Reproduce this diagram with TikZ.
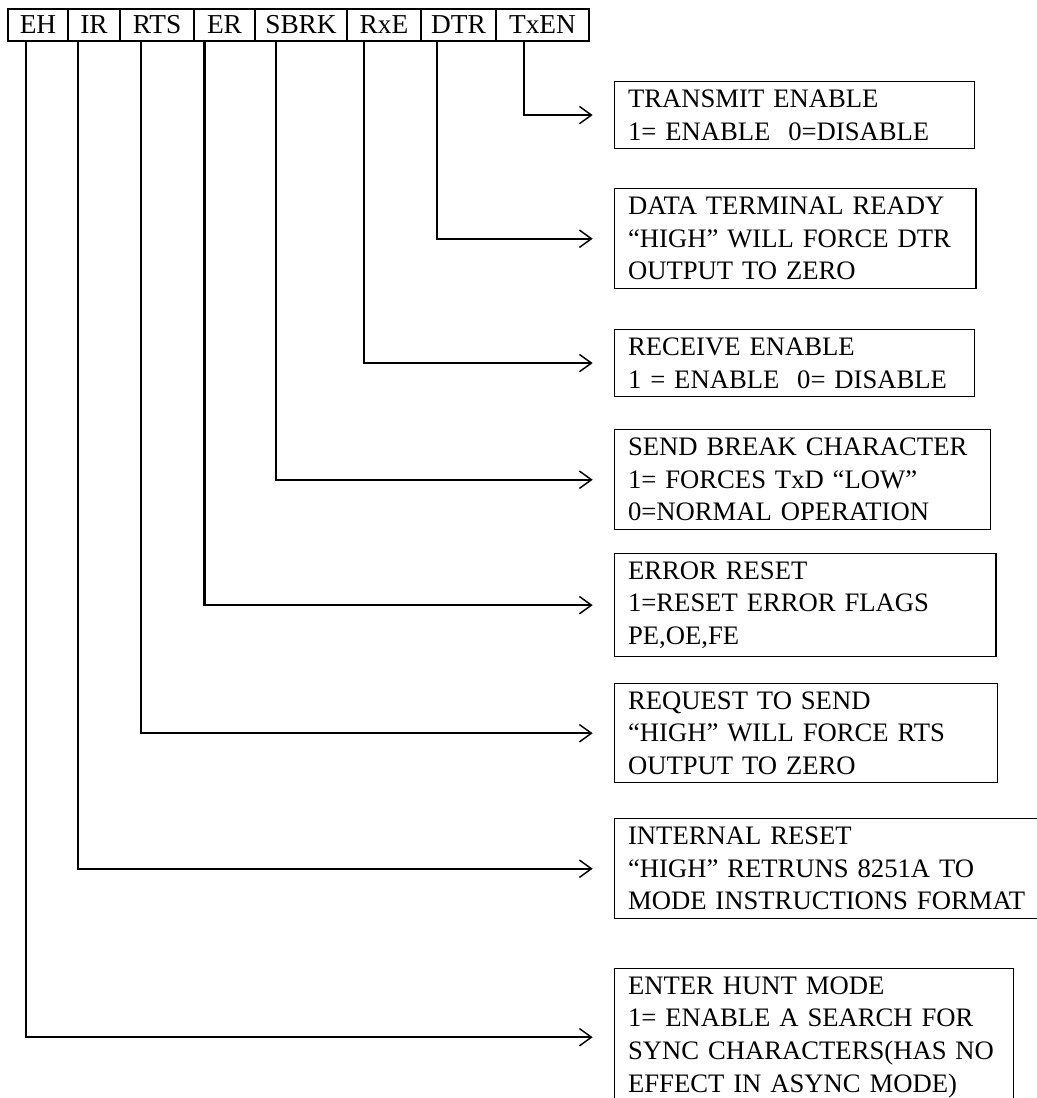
\documentclass[tikz,border=0pt]{standalone}
\usepackage{fontspec}
\setmainfont{Liberation Serif}
\usetikzlibrary{positioning, arrows.meta}

\tikzset{
    bitcell/.style={
        draw, line width=1pt, minimum height=24pt, inner sep=0pt, outer sep=0pt,
        text height=13.5pt, text depth=0pt, font=\fontsize{20.5}{24.4}\selectfont
    },
    descbox/.style={
        draw, line width=1.1pt, anchor=north west, align=left,
        inner xsep=10pt, inner ysep=6pt, font=\fontsize{20}{24.4}\selectfont
    },
    bitline/.style={
        -{Straight Barb[length=9pt, width=13pt, line width=1.1pt]},
        line width=1.6pt, shorten >=16pt
    }
}

\begin{document}
\begin{tikzpicture}[x=0.75pt, y=-0.75pt]
    \useasboundingbox (0,0) rectangle (1037,1098);

    % --- 1. command word, one cell per bit ---
    \node[bitcell, minimum width=45pt, anchor=west] (eh) at (8,25) {EH};
    \node[bitcell, minimum width=39pt, right=0pt of eh] (ir) {IR};
    \node[bitcell, minimum width=55.5pt, right=0pt of ir] (rts) {RTS};
    \node[bitcell, minimum width=45.75pt, right=0pt of rts] (er) {ER};
    \node[bitcell, minimum width=69pt, right=0pt of er] (sbrk) {SBRK};
    \node[bitcell, minimum width=55.5pt, right=0pt of sbrk] (rxe) {RxE};
    \node[bitcell, minimum width=56.25pt, right=0pt of rxe] (dtr) {DTR};
    \node[bitcell, minimum width=69.75pt, right=0pt of dtr] (txen) {TxEN};

    % --- 2. meaning of each bit ---
    \node[descbox, text width=250pt, minimum height=50pt] (txbox) at (614,81)
        {TRANSMIT ENABLE\\1= ENABLE~~0=DISABLE};
    \node[descbox, text width=251pt, minimum height=75pt] (dtrbox) at (614,188)
        {DATA TERMINAL READY\\“HIGH” WILL FORCE DTR\\OUTPUT TO ZERO};
    \node[descbox, text width=250pt, minimum height=50pt] (rxebox) at (614,329)
        {RECEIVE ENABLE\\1 = ENABLE~~0= DISABLE};
    \node[descbox, text width=262pt, minimum height=75pt] (sbrkbox) at (614,429)
        {SEND BREAK CHARACTER\\1= FORCES TxD “LOW”\\0=NORMAL OPERATION};
    \node[descbox, text width=266pt, minimum height=75pt] (erbox) at (614,553)
        {ERROR RESET\\1=RESET ERROR FLAGS\\PE,OE,FE};
    \node[descbox, text width=267pt, minimum height=74pt] (rtsbox) at (614,683)
        {REQUEST TO SEND\\“HIGH” WILL FORCE RTS\\OUTPUT TO ZERO};
    \node[descbox, text width=312pt, minimum height=75pt] (irbox) at (614,818)
        {INTERNAL RESET\\“HIGH” RETRUNS 8251A TO\\MODE INSTRUCTIONS FORMAT};
    \node[descbox, text width=279pt] (ehbox) at (614,968)
        {ENTER HUNT MODE\\1= ENABLE A SEARCH FOR\\SYNC CHARACTERS(HAS NO\\EFFECT IN ASYNC MODE)};

    % --- 3. leader lines from bits to boxes ---
    \foreach \bit/\desc/\dx in {txen/txbox/-14, dtr/dtrbox/-16, rxe/rxebox/-15,
            sbrk/sbrkbox/-19, er/erbox/-15, rts/rtsbox/-12, ir/irbox/-12, eh/ehbox/-9}
        \draw[bitline] ([xshift=\dx pt]\bit.south) |- (\desc.west);

\end{tikzpicture}
\end{document}
